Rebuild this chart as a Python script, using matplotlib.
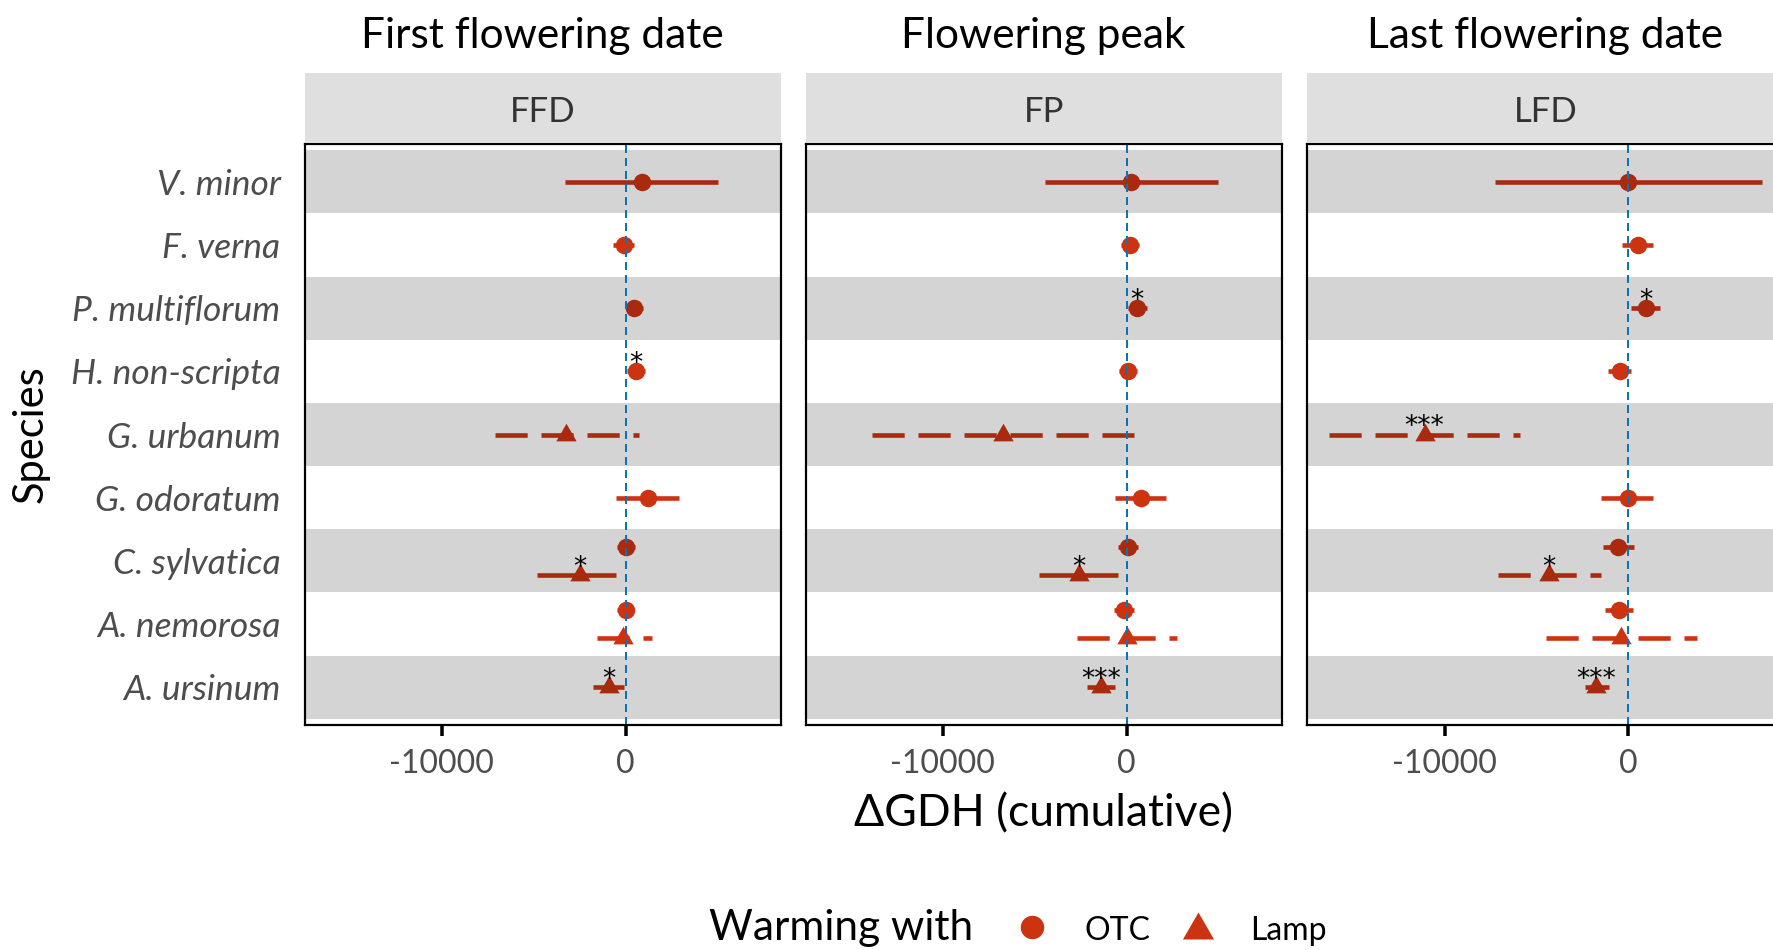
import numpy as np
import matplotlib
matplotlib.use("Agg")
import matplotlib.pyplot as plt
from matplotlib.path import Path
from matplotlib.patches import Rectangle

# ---------------------------------------------------------------- data
species = ["V. minor", "F. verna", "P. multiflorum", "H. non-scripta", "G. urbanum",
           "G. odoratum", "C. sylvatica", "A. nemorosa", "A. ursinum"]
phases = ["FFD", "FP", "LFD"]
phase_titles = ["First flowering date", "Flowering peak", "Last flowering date"]
treatments = ["OTC", "Lamp"]
x_ticks = [-10000, 0]
x_ticklabels = ["-10000", "0"]
nan = np.nan

# cumulative growing-degree-hour effect (estimate, lower, upper), OTC warming
otc_ffd_est = [900, -100, 475, 580, nan, 1225, 0, 0, nan]
otc_ffd_lo = [-3300, -700, 0, 55, nan, -530, -450, -450, nan]
otc_ffd_hi = [5030, 450, 950, 1080, nan, 2890, 520, 450, nan]
otc_fp_est = [235, 180, 580, 90, nan, 760, 50, -130, nan]
otc_fp_lo = [-4445, -310, 90, -400, nan, -635, -490, -690, nan]
otc_fp_hi = [4950, 690, 1090, 580, nan, 2120, 630, 400, nan]
otc_lfd_est = [0, 525, 940, -455, nan, -20, -545, -490, nan]
otc_lfd_lo = [-7260, -330, 125, -1110, nan, -1510, -1380, -1290, nan]
otc_lfd_hi = [7295, 1340, 1720, 165, nan, 1360, 305, 270, nan]

# same quantities for lamp warming
lamp_ffd_est = [nan, nan, nan, nan, -3220, nan, -2475, -140, -915]
lamp_ffd_lo = [nan, nan, nan, nan, -7110, nan, -4810, -1550, -1775]
lamp_ffd_hi = [nan, nan, nan, nan, 725, nan, -530, 1415, -110]
lamp_fp_est = [nan, nan, nan, nan, -6715, nan, -2600, 30, -1400]
lamp_fp_lo = [nan, nan, nan, nan, -13850, nan, -4755, -2690, -2180]
lamp_fp_hi = [nan, nan, nan, nan, 400, nan, -490, 2755, -635]
lamp_lfd_est = [nan, nan, nan, nan, -11090, nan, -4320, -420, -1740]
lamp_lfd_lo = [nan, nan, nan, nan, -16300, nan, -7100, -4500, -2380]
lamp_lfd_hi = [nan, nan, nan, nan, -5900, nan, -1510, 3720, -1055]

# interval line type of the lamp estimates ("solid" / "longdash")
lamp_ffd_lty = ["", "", "", "", "longdash", "", "solid", "longdash", "solid"]
lamp_fp_lty = ["", "", "", "", "longdash", "", "solid", "longdash", "solid"]
lamp_lfd_lty = ["", "", "", "", "longdash", "", "longdash", "longdash", "solid"]

# significance labels
otc_ffd_sig = ["", "", "", "*", "", "", "", "", ""]
otc_fp_sig = ["", "", "*", "", "", "", "", "", ""]
otc_lfd_sig = ["", "", "*", "", "", "", "", "", ""]
lamp_ffd_sig = ["", "", "", "", "", "", "*", "", "*"]
lamp_fp_sig = ["", "", "", "", "", "", "*", "", "***"]
lamp_lfd_sig = ["", "", "", "", "***", "", "*", "", "***"]

panels = [
    dict(otc=(otc_ffd_est, otc_ffd_lo, otc_ffd_hi, otc_ffd_sig),
         lamp=(lamp_ffd_est, lamp_ffd_lo, lamp_ffd_hi, lamp_ffd_sig, lamp_ffd_lty)),
    dict(otc=(otc_fp_est, otc_fp_lo, otc_fp_hi, otc_fp_sig),
         lamp=(lamp_fp_est, lamp_fp_lo, lamp_fp_hi, lamp_fp_sig, lamp_fp_lty)),
    dict(otc=(otc_lfd_est, otc_lfd_lo, otc_lfd_hi, otc_lfd_sig),
         lamp=(lamp_lfd_est, lamp_lfd_lo, lamp_lfd_hi, lamp_lfd_sig, lamp_lfd_lty)),
]

# ---------------------------------------------------------------- style
RED = "#CC3311"
ZERO_BLUE = "#0A74B4"
FAM = ["Lato", "DejaVu Sans"]
plt.rcParams["font.family"] = FAM

W, H = 1773, 950
DPI = 100
PX = 72.0 / DPI          # points per pixel

fig = plt.figure(figsize=(W / DPI, H / DPI), dpi=DPI)
fig.patch.set_facecolor("white")

def fx(px):
    return px / W

def fy(py):
    return 1 - py / H

panel_left = [304.6, 805.7, 1307.3]
panel_w = 476.0
panel_top, panel_bot = 144.0, 725.0
strip_top, strip_bot = 72.7, 142.7
XLIM = (-17470, 8440)
DODGE = 0.225

# ggplot-like triangle (shape 17) centred on its centroid
tri_r = 1.5551
tri = Path([(0, tri_r), (-1.3468, -0.7776), (1.3468, -0.7776), (0, tri_r)],
           [Path.MOVETO, Path.LINETO, Path.LINETO, Path.CLOSEPOLY])

LW = 4.6 * PX
DASH = {"solid": "-", "longdash": (0, (7, 3))}
CIRCLE_MS = 17.5 * PX
TRI_MS = 23.5 * PX

n = len(species)
rows = np.arange(n)

for k, (ph, title, pdata) in enumerate(zip(phases, phase_titles, panels)):
    L = panel_left[k]
    ax = fig.add_axes([fx(L), fy(panel_bot), panel_w / W, (panel_bot - panel_top) / H])
    ax.set_xlim(*XLIM)
    ax.set_ylim(n - 1 + 0.6, -0.6)

    o_est = np.array(pdata["otc"][0], float)
    o_lo = np.array(pdata["otc"][1], float)
    o_hi = np.array(pdata["otc"][2], float)
    l_est = np.array(pdata["lamp"][0], float)
    l_lo = np.array(pdata["lamp"][1], float)
    l_hi = np.array(pdata["lamp"][2], float)

    both = ~np.isnan(o_est) & ~np.isnan(l_est)
    y_otc = rows - np.where(both, DODGE, 0.0)
    y_lamp = rows + np.where(both, DODGE, 0.0)

    # OTC intervals and points
    for i in rows:
        if np.isnan(o_est[i]):
            continue
        ax.plot([o_lo[i], o_hi[i]], [y_otc[i]] * 2, color=RED, lw=LW,
                solid_capstyle="butt", zorder=3)
    ax.plot(o_est, y_otc, ls="none", marker="o", ms=CIRCLE_MS, mew=0,
            color=RED, zorder=4)

    # lamp intervals and points
    for i in rows:
        if np.isnan(l_est[i]):
            continue
        ax.plot([l_lo[i], l_hi[i]], [y_lamp[i]] * 2, color=RED, lw=LW,
                ls=DASH[pdata["lamp"][4][i]], solid_capstyle="butt",
                dash_capstyle="butt", zorder=3)
    ax.plot(l_est, y_lamp, ls="none", marker=tri, ms=TRI_MS, mew=0,
            color=RED, zorder=4)

    # alternating row shading laid over the marks
    for i in rows[::2]:
        ax.add_patch(Rectangle((XLIM[0] - 1e5, i - 0.5), 3e5, 1.0,
                               facecolor="black", alpha=0.17, lw=0, zorder=5))

    # zero reference
    ax.axvline(0, color=ZERO_BLUE, lw=2.0 * PX, ls=(0, (4, 2.5)), zorder=6)

    # significance stars
    for est, ys, sig in ((o_est, y_otc, pdata["otc"][3]), (l_est, y_lamp, pdata["lamp"][3])):
        for i in rows:
            if sig[i]:
                ax.annotate(sig[i], xy=(est[i], ys[i]), xytext=(0, 0.5 * PX),
                            textcoords="offset points", ha="center", va="baseline",
                            fontsize=19, family="DejaVu Sans", color="black", zorder=7)

    # axes cosmetics
    for sp in ax.spines.values():
        sp.set_linewidth(2.2 * PX)
        sp.set_color("black")
        sp.set_zorder(8)
    ax.set_facecolor("white")
    ax.set_xticks(x_ticks)
    ax.set_xticklabels(x_ticklabels, family=FAM, fontweight="normal",
                       fontsize=23, color="#4D4D4D")
    ax.tick_params(axis="x", length=11 * PX, width=3.5 * PX, color="black",
                   pad=13 * PX)
    ax.set_yticks(rows)
    if k == 0:
        ax.set_yticklabels(species, family=FAM, fontweight="normal",
                           style="italic", fontsize=25.5, color="#4D4D4D")
        ax.tick_params(axis="y", length=0, pad=24 * PX)
    else:
        ax.set_yticklabels([])
        ax.tick_params(axis="y", length=0)

    # facet strip
    sax = fig.add_axes([fx(L), fy(strip_bot), panel_w / W, (strip_bot - strip_top) / H])
    sax.set_facecolor("#DFDFDF")
    sax.set_xticks([])
    sax.set_yticks([])
    for sp in sax.spines.values():
        sp.set_visible(False)
    sax.text(0.5, (strip_bot - 121.7) / (strip_bot - strip_top), ph, ha="center",
             va="baseline", transform=sax.transAxes,
             fontsize=25, fontweight="normal", color="#333333")

    # phase title
    fig.text(fx(L + panel_w / 2), fy(48), title, ha="center", va="baseline",
             fontsize=30.5, color="black")

# axis titles
fig.text(fx(43), fy(434.5), "Species", rotation=90, rotation_mode="anchor",
         ha="center", va="baseline", fontsize=30, color="black")
fig.text(fx(1044), fy(826), "\u0394GDH (cumulative)", ha="center", va="baseline",
         fontsize=32, color="black")

# legend
lax = fig.add_axes([0, 0, 1, 1], facecolor="none")
lax.set_xlim(0, W)
lax.set_ylim(H, 0)
lax.axis("off")
lax.text(708.7, 940, "Warming with", ha="left", va="baseline", fontsize=30.5, color="black")
lax.plot([1032], [926.7], ls="none", marker="o", ms=23.5 * PX, mew=0, color=RED)
lax.text(1084, 940, treatments[0], ha="left", va="baseline", fontsize=23,
         fontweight="normal", color="black")
lax.plot([1197.7], [930], ls="none", marker=tri, ms=36 * PX, mew=0, color=RED)
lax.text(1250, 940, treatments[1], ha="left", va="baseline", fontsize=23,
         fontweight="normal", color="black")

fig.savefig("out.png", dpi=DPI, facecolor="white")
